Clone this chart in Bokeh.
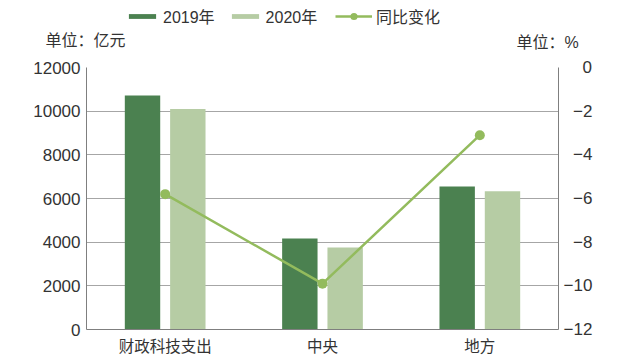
from bokeh.plotting import figure
from bokeh.models import (ColumnDataSource, FactorRange, Range1d, LinearAxis, FixedTicker,
                          Legend, LegendItem, Label)
from bokeh.transform import dodge
from bokeh.embed import file_html
from bokeh.resources import INLINE

categories = ["财政科技支出", "中央", "地方"]
spend_2019 = [10717.4, 4173.2, 6544.2]
spend_2020 = [10095.0, 3758.2, 6336.8]
yoy_change = [-5.8, -9.9, -3.1]
left_ticks = [0, 2000, 4000, 6000, 8000, 10000, 12000]
right_ticks = [-12, -10, -8, -6, -4, -2, 0]
right_labels = ["\u2212" + "12", "\u2212" + "10", "\u2007\u22128", "\u2007\u22126",
                "\u2007\u22124", "\u2007\u22122", "\u2007\u20070"]

C2019 = "#4b8150"
C2020 = "#b6cca4"
CLINE = "#93bb5d"
FONT = "'Liberation Sans', Arial, 'Noto Sans CJK SC', sans-serif"
TXT = "#333333"

W = 637
H_TOP = 55
H_MAIN = 308

# ---------- header (legend + unit labels) ----------
hdr = figure(width=W, height=H_TOP, x_range=Range1d(0, W), y_range=Range1d(0, H_TOP),
             output_backend="svg", toolbar_location=None, min_border=0)
hdr.axis.visible = False
hdr.grid.visible = False
hdr.outline_line_color = None
hdr.background_fill_color = None
# legend proxies: sit outside the header's visible range, only their legend swatches show
proxy = ColumnDataSource(dict(x=[-100], y=[-100], t=[-100]))
h19 = hdr.vbar(x="x", top="t", width=1, source=proxy, fill_color=C2019, line_color=None)
h20 = hdr.vbar(x="x", top="t", width=1, source=proxy, fill_color=C2020, line_color=None)
hl = hdr.line(x="x", y="y", source=proxy, line_color=CLINE, line_width=2.5)
hc = hdr.scatter(x="x", y="y", source=proxy, size=8, fill_color=CLINE, line_color=None)

leg_common = dict(orientation="horizontal", label_standoff=4, spacing=13, padding=0, margin=0,
                  border_line_color=None, background_fill_alpha=0, label_text_font=FONT,
                  label_text_font_size="16px", label_text_color=TXT)
legend_bars = Legend(items=[LegendItem(label="2019年", renderers=[h19]),
                            LegendItem(label="2020年", renderers=[h20])],
                     location=(125, 27), glyph_width=34, glyph_height=6, **leg_common)
legend_line = Legend(items=[LegendItem(label="同比变化", renderers=[hl, hc])],
                     location=(335, 27), glyph_width=37, glyph_height=18, **leg_common)
hdr.add_layout(legend_bars, "center")
hdr.add_layout(legend_line, "center")
hdr.add_layout(Label(x=45, y=15, text="单位：亿元", text_font=FONT, text_font_size="16px",
                     text_color=TXT, text_baseline="middle", text_align="left"))
hdr.add_layout(Label(x=516, y=13, text="单位：%", text_font=FONT, text_font_size="16px",
                     text_color=TXT, text_baseline="middle", text_align="left"))

# ---------- main chart ----------
src = ColumnDataSource(dict(cat=categories, v19=spend_2019, v20=spend_2020, pct=yoy_change))

p = figure(x_range=FactorRange(*categories, range_padding=0), y_range=Range1d(0, 12000),
           width=W, height=H_MAIN, output_backend="svg", toolbar_location=None,
           min_border_left=86, min_border_right=W - 558, min_border_top=12,
           min_border_bottom=34)
p.extra_y_ranges = {"pct": Range1d(-12, 0)}
p.outline_line_color = None
p.background_fill_color = None

r19 = p.vbar(x=dodge("cat", -0.144, range=p.x_range), top="v19", width=0.225, source=src,
             fill_color=C2019, line_color=None)
r20 = p.vbar(x=dodge("cat", 0.144, range=p.x_range), top="v20", width=0.225, source=src,
             fill_color=C2020, line_color=None)
rl = p.line(x="cat", y="pct", source=src, y_range_name="pct", line_color=CLINE, line_width=2.5)
rc = p.scatter(x="cat", y="pct", source=src, y_range_name="pct", size=10,
               fill_color=CLINE, line_color=None)

p.yaxis.ticker = FixedTicker(ticks=left_ticks)
p.yaxis.major_tick_line_color = None
p.yaxis.major_tick_out = 0
p.yaxis.minor_tick_line_color = None
p.yaxis.axis_line_color = "#7f7f7f"
p.yaxis.major_label_text_font_size = "17px"
p.yaxis.major_label_text_font = FONT
p.yaxis.major_label_text_color = TXT
p.yaxis.major_label_standoff = 6

p.xaxis.major_tick_line_color = None
p.xaxis.major_tick_out = 0
p.xaxis.axis_line_color = "#7f7f7f"
p.xaxis.major_label_text_font_size = "15.5px"
p.xaxis.major_label_text_font = FONT
p.xaxis.major_label_text_color = TXT
p.xaxis.major_label_standoff = 8

ra = LinearAxis(y_range_name="pct", ticker=FixedTicker(ticks=right_ticks))
ra.major_label_overrides = dict(zip(right_ticks, right_labels))
ra.major_tick_line_color = None
ra.major_tick_out = 0
ra.minor_tick_line_color = None
ra.axis_line_color = "#7f7f7f"
ra.major_label_text_font_size = "17px"
ra.major_label_text_font = FONT
ra.major_label_text_color = TXT
ra.major_label_standoff = 5
p.add_layout(ra, "right")

p.xgrid.grid_line_color = None
p.ygrid.grid_line_color = "#a6a6a6"
p.ygrid.grid_line_width = 1

open("out.html", "w").write(file_html([hdr, p], INLINE))
